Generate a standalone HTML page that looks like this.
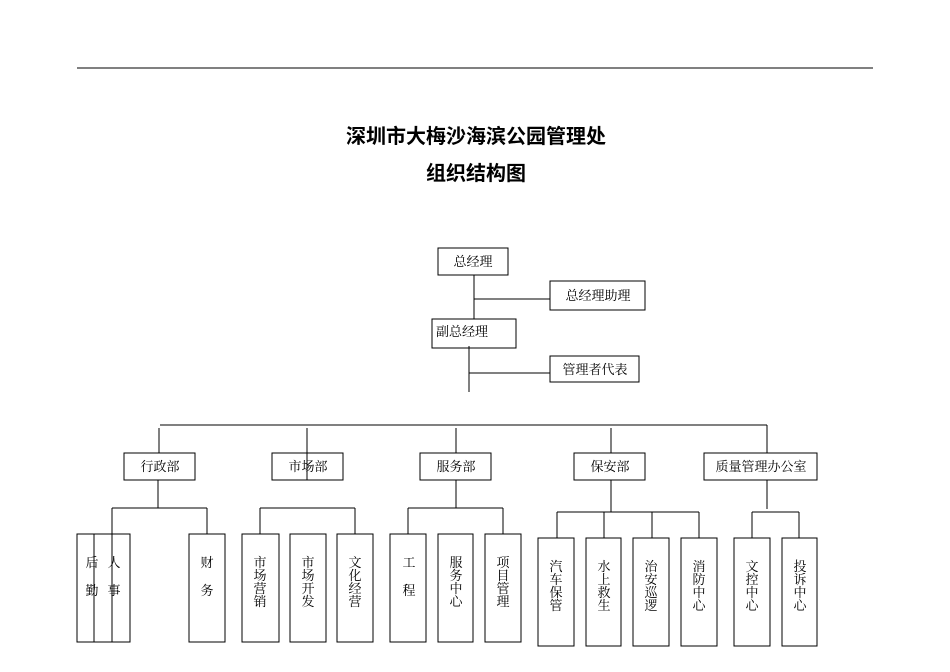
<!DOCTYPE html>
<html><head><meta charset="utf-8"><style>
html,body{margin:0;padding:0;background:#fff}
svg{display:block}
text{font-family:"Liberation Serif","Noto Serif CJK SC","Noto Sans CJK SC",serif;fill:#000}
.b{font-family:"Liberation Sans","Noto Sans CJK SC",sans-serif;font-weight:bold}
</style></head><body>
<svg width="950" height="672" viewBox="0 0 950 672" xmlns="http://www.w3.org/2000/svg">
<g stroke="#000" stroke-width="1" fill="none" shape-rendering="crispEdges">
<line x1="77" y1="68" x2="873" y2="68"/>
<rect x="438" y="248" width="70" height="27"/>
<line x1="474" y1="275" x2="474" y2="319"/>
<line x1="474" y1="299" x2="550" y2="299"/>
<rect x="550" y="281" width="95" height="29"/>
<rect x="432" y="319" width="84" height="29"/>
<line x1="469" y1="346" x2="469" y2="392"/>
<line x1="469" y1="373" x2="550" y2="373"/>
<rect x="550" y="356" width="89" height="26"/>
<line x1="160" y1="425" x2="767" y2="425"/>
<line x1="159" y1="428" x2="159" y2="453"/>
<line x1="307" y1="428" x2="307" y2="480"/>
<line x1="456" y1="428" x2="456" y2="453"/>
<line x1="611" y1="428" x2="611" y2="453"/>
<line x1="767" y1="425" x2="767" y2="453"/>
<rect x="124" y="453" width="71" height="27"/>
<rect x="272" y="453" width="71" height="27"/>
<rect x="420" y="453" width="71" height="27"/>
<rect x="574" y="453" width="71" height="27"/>
<rect x="704" y="453" width="113" height="27"/>
<line x1="158" y1="480" x2="158" y2="508"/>
<line x1="112" y1="508" x2="207" y2="508"/>
<line x1="112" y1="508" x2="112" y2="642"/>
<line x1="207" y1="508" x2="207" y2="534"/>
<rect x="77" y="534" width="53" height="108"/>
<rect x="94" y="534" width="18" height="108"/>
<rect x="189" y="534" width="36" height="108"/>
<line x1="260" y1="508" x2="355" y2="508"/>
<line x1="260" y1="508" x2="260" y2="534"/>
<line x1="355" y1="508" x2="355" y2="534"/>
<rect x="242" y="534" width="37" height="108"/>
<rect x="290" y="534" width="36" height="108"/>
<rect x="337" y="534" width="36" height="108"/>
<line x1="456" y1="480" x2="456" y2="508"/>
<line x1="408" y1="508" x2="503" y2="508"/>
<line x1="408" y1="508" x2="408" y2="534"/>
<line x1="503" y1="508" x2="503" y2="534"/>
<rect x="390" y="534" width="36" height="108"/>
<rect x="438" y="534" width="35" height="108"/>
<rect x="485" y="534" width="36" height="108"/>
<line x1="611" y1="480" x2="611" y2="512"/>
<line x1="557" y1="512" x2="699" y2="512"/>
<line x1="557" y1="512" x2="557" y2="538"/>
<line x1="604" y1="512" x2="604" y2="538"/>
<line x1="652" y1="512" x2="652" y2="538"/>
<line x1="699" y1="512" x2="699" y2="538"/>
<rect x="538" y="538" width="36" height="108"/>
<rect x="586" y="538" width="35" height="108"/>
<rect x="633" y="538" width="36" height="108"/>
<rect x="681" y="538" width="36" height="108"/>
<line x1="767" y1="480" x2="767" y2="509"/>
<line x1="752" y1="512" x2="799" y2="512"/>
<line x1="752" y1="512" x2="752" y2="538"/>
<line x1="799" y1="512" x2="799" y2="538"/>
<rect x="734" y="538" width="36" height="108"/>
<rect x="782" y="538" width="35" height="108"/>
</g>
<text class="b" x="476" y="143" font-size="20" text-anchor="middle">深圳市大梅沙海滨公园管理处</text>
<text class="b" x="476" y="180" font-size="20" text-anchor="middle">组织结构图</text>
<g font-size="13" text-anchor="middle">
<text x="473" y="266">总经理</text>
<text x="598" y="300">总经理助理</text>
<text x="462" y="336">副总经理</text>
<text x="595" y="374">管理者代表</text>
<text x="160" y="471">行政部</text>
<text x="308" y="471">市场部</text>
<text x="456" y="471">服务部</text>
<text x="610" y="471">保安部</text>
<text x="761" y="471">质量管理办公室</text>
</g>
<g font-size="13" text-anchor="middle">
<text x="92" y="567">后</text><text x="92" y="595">勤</text>
<text x="114" y="567">人</text><text x="114" y="595">事</text>
<text x="207" y="567">财</text><text x="207" y="595">务</text>
<text x="409" y="567">工</text><text x="409" y="595">程</text>
</g>
<g font-size="13" text-anchor="middle">
<text x="260" y="567">市</text><text x="260" y="580">场</text><text x="260" y="593">营</text><text x="260" y="606">销</text>
<text x="308" y="567">市</text><text x="308" y="580">场</text><text x="308" y="593">开</text><text x="308" y="606">发</text>
<text x="355" y="567">文</text><text x="355" y="580">化</text><text x="355" y="593">经</text><text x="355" y="606">营</text>
<text x="456" y="567">服</text><text x="456" y="580">务</text><text x="456" y="593">中</text><text x="456" y="606">心</text>
<text x="503" y="567">项</text><text x="503" y="580">目</text><text x="503" y="593">管</text><text x="503" y="606">理</text>
<text x="556" y="571">汽</text><text x="556" y="584">车</text><text x="556" y="597">保</text><text x="556" y="610">管</text>
<text x="604" y="571">水</text><text x="604" y="584">上</text><text x="604" y="597">救</text><text x="604" y="610">生</text>
<text x="651" y="571">治</text><text x="651" y="584">安</text><text x="651" y="597">巡</text><text x="651" y="610">逻</text>
<text x="699" y="571">消</text><text x="699" y="584">防</text><text x="699" y="597">中</text><text x="699" y="610">心</text>
<text x="752" y="571">文</text><text x="752" y="584">控</text><text x="752" y="597">中</text><text x="752" y="610">心</text>
<text x="800" y="571">投</text><text x="800" y="584">诉</text><text x="800" y="597">中</text><text x="800" y="610">心</text>
</g>
</svg>
</body></html>
